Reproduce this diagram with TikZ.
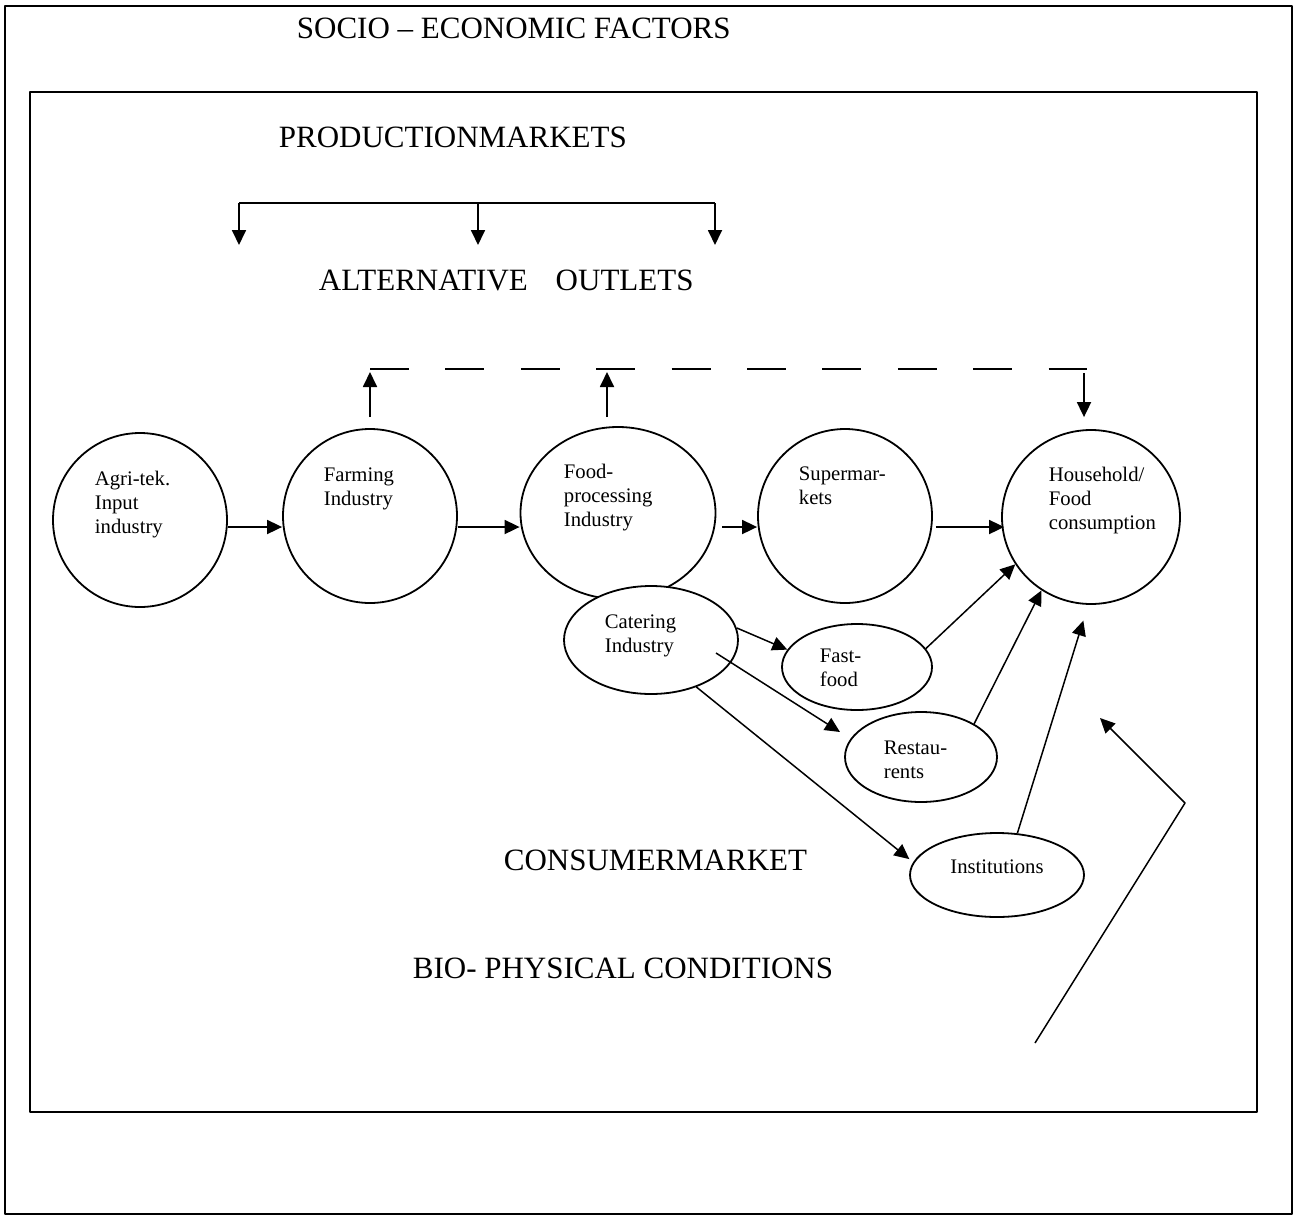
\documentclass[tikz,border=0pt]{standalone}
\usepackage{fontspec}
\setmainfont{Liberation Serif}
\usetikzlibrary{arrows.meta,shapes.geometric}
\begin{document}
\begin{tikzpicture}[x=1pt,y=1pt,
  line width=1.8pt, line join=round,
  arr/.style={-{Triangle[length=15pt,width=14pt]}},
  big/.style={font=\fontsize{31}{37}\selectfont, inner sep=0pt, anchor=base west},
  small/.style={font=\fontsize{20.7}{24}\selectfont, inner sep=0pt, anchor=base west, align=left},
  oval/.style n args={2}{ellipse, draw, inner sep=0pt, minimum width=#1, minimum height=#2},
  dashline/.style={dash pattern=on 39pt off 36.4pt}
]
\useasboundingbox (0,0) rectangle (1294,-1216);
% frames
\draw (5,-6) rectangle (1292,-1214);
\draw (30,-92) rectangle (1257,-1112);

% headings
\node[big] (socio) at (296,-38) {SOCIO -- ECONOMIC FACTORS};
\node[big] (prod) at (278,-147) {PRODUCTIONMARKETS};
\node[big] (alt) at (318,-290) {ALTERNATIVE\hspace{0.9em}OUTLETS};
\node[big] (cons) at (503,-870) {CONSUMERMARKET};
\node[big] (bio) at (412,-978) {BIO- PHYSICAL CONDITIONS};

% branch arrows
\coordinate (brL) at (239,-203);
\coordinate (brM) at (478,-203);
\coordinate (brR) at (715,-203);
\coordinate (tipL) at (239,-245);
\coordinate (tipM) at (478,-245);
\coordinate (tipR) at (715,-245);
\draw (brL) -- (brR);
\draw[arr] (brL) -- (tipL);
\draw[arr] (brM) -- (tipM);
\draw[arr] (brR) -- (tipR);

% main chain nodes
\node[oval={174pt}{174pt}] (agri) at (140,-520) {};
\node[oval={174pt}{174pt}] (farm) at (370,-516) {};
\node[oval={195pt}{172pt}] (food) at (618,-513) {};
\node[oval={174pt}{174pt}] (super) at (845,-516) {};
\node[oval={178pt}{174pt}] (house) at (1091,-517) {};
\node[oval={174pt}{108pt}, fill=white] (cat) at (651,-640) {};
\node[oval={150pt}{86pt}] (fast) at (857,-667) {};
\node[oval={152pt}{90pt}] (rest) at (921,-757) {};
\node[oval={174pt}{84pt}] (inst) at (997,-875) {};

% node texts (anchor = baseline of last line)
\node[small] (agriT) at (94,-533) {Agri-tek.\\Input\\industry};
\node[small] (farmT) at (323,-505) {Farming\\Industry};
\node[small] (foodT) at (563,-526) {Food-\\processing\\Industry};
\node[small] (superT) at (798,-504) {Supermar-\\kets};
\node[small] (houseT) at (1048,-529) {Household/\\Food\\consumption};
\node[small] (catT) at (604,-652) {Catering\\Industry};
\node[small] (fastT) at (819,-686) {Fast-\\food};
\node[small] (restT) at (883,-778) {Restau-\\rents};
\node[small, anchor=base] (instT) at (997,-873) {Institutions};

% horizontal flow
\coordinate (row) at (0,-527);
\draw[arr] (agri.east |- row) -- (farm.west |- row);
\draw[arr] (farm.east |- row) -- (food.west |- row);
\draw[arr] ([xshift=6pt]food.east |- row) -- (super.west |- row);
\draw[arr] ([xshift=3pt]super.east |- row) -- ([xshift=3pt]house.west |- row);

% alternative outlets dashed feedback
\coordinate (drow) at (0,-369);
\coordinate (dend) at (1087,-369);
\draw[arr] ([yshift=11pt]farm.north) -- ([yshift=-3pt]farm.north |- drow);
\draw[arr] ([xshift=-11pt,yshift=9pt]food.north) -- ([xshift=-11pt,yshift=-3pt]food.north |- drow);
\draw[dashline] (farm.north |- drow) -- (dend);
\draw[arr] ([xshift=-7pt,yshift=-4pt]house.north |- drow) -- ([xshift=-7pt,yshift=12pt]house.north);

% catering branches
\begin{scope}[line width=1.5pt]
\draw[arr] (cat.8) -- (fast.166);
\draw[arr] ([shift={(65pt,-13pt)}]cat.center) -- ([shift={(-81pt,25pt)}]rest.center);
\draw[arr] (cat.-46) -- ([xshift=-6pt]inst.169);

% into household
\draw[arr] (fast.15) -- (house.212);
\draw[arr] (rest.32) -- (house.236);
\draw[arr] (inst.64) -- ([yshift=-16pt]house.265);

% bio-physical arrow
\coordinate (bpLow) at (1035,-1043);
\coordinate (bpCorner) at (1185,-803);
\coordinate (bpTip) at (1100,-718);
\draw[arr] (bpLow) -- (bpCorner) -- (bpTip);
\end{scope}
\end{tikzpicture}
\end{document}
